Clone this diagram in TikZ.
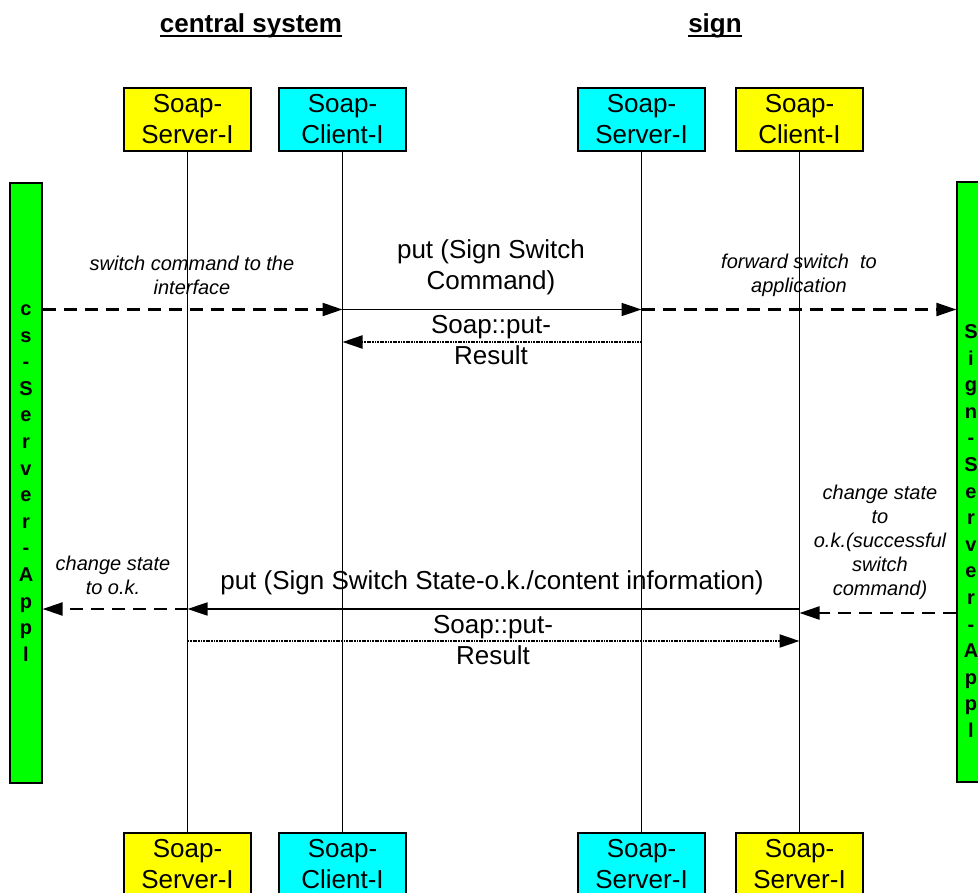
\documentclass[tikz,border=0pt]{standalone}
\usepackage{fontspec}
\setmainfont{Liberation Sans}
\usetikzlibrary{arrows.meta}
\definecolor{srvyellow}{RGB}{255,255,0}
\definecolor{clicyan}{RGB}{0,255,255}
\definecolor{appgreen}{RGB}{0,255,0}
\begin{document}
\begin{tikzpicture}[x=1pt,y=-1pt,
  box/.style={draw, line width=1.2pt, minimum width=127pt, minimum height=63pt,
    inner sep=0pt, align=center, font=\fontsize{26}{31}\selectfont},
  srvbox/.style={box, fill=srvyellow},
  clibox/.style={box, fill=clicyan},
  appbar/.style={draw, line width=1.2pt, fill=appgreen, minimum width=32pt,
    minimum height=600pt, inner sep=0pt},
  applabel/.style={font=\fontsize{20}{26.6}\selectfont\bfseries, align=center, inner sep=0pt},
  life/.style={line width=1.2pt},
  callmsg/.style={line width=1.5pt, -{Triangle[length=20pt,width=13pt]}},
  localmsg/.style={callmsg, line width=2.2pt, dash pattern=on 13pt off 8pt},
  replymsg/.style={callmsg, line width=2pt, dash pattern=on 1.8pt off 0.8pt},
  note/.style={font=\fontsize{20}{24}\selectfont\itshape, align=center, inner sep=0pt},
  lbl/.style={font=\fontsize{26}{31}\selectfont, align=center, inner sep=0pt},
  heading/.style={font=\fontsize{26}{31}\selectfont\bfseries, inner sep=0pt},
  rule/.style={line width=2pt},
]
\useasboundingbox (0,0) rectangle (978,893);
\clip (0,0) rectangle (978,893);

% headings with their underlines
\node[heading, anchor=base] (hcs) at (251,33) {central system};
\node[heading, anchor=base] (hsg) at (715,33) {sign};
\draw[rule] ([yshift=-3pt]hcs.base west) -- ([yshift=-3pt]hcs.base east);
\draw[rule] ([yshift=-3pt]hsg.base west) -- ([yshift=-3pt]hsg.base east);

% participants, top row
\node[srvbox] (s1t) at (187.5,119.5) {Soap-\\Server-I};
\node[clibox] (c1t) at (342.5,119.5) {Soap-\\Client-I};
\node[clibox] (s2t) at (641.5,119.5) {Soap-\\Server-I};
\node[srvbox] (c2t) at (799.5,119.5) {Soap-\\Client-I};

% participants, bottom row
\node[srvbox] (s1b) at (187.5,864.5) {Soap-\\Server-I};
\node[clibox] (c1b) at (342.5,864.5) {Soap-\\Client-I};
\node[clibox] (s2b) at (641.5,864.5) {Soap-\\Server-I};
\node[srvbox] (c2b) at (799.5,864.5) {Soap-\\Server-I};

% lifelines
\draw[life] (s1t.south) -- (s1b.north);
\draw[life] (c1t.south) -- (c1b.north);
\draw[life] (s2t.south) -- (s2b.north);
\draw[life] (c2t.south) -- (c2b.north);

% applications
\node[appbar] (lapp) at (26,483) {};
\node[applabel] (lappt) at (26,483) {c\\s\\-\\S\\e\\r\\v\\e\\r\\-\\A\\p\\p\\l};
\node[appbar] (rapp) at (973,482) {};
\node[applabel] (rappt) at (971,531) {S\\i\\g\\n\\-\\S\\e\\r\\v\\e\\r\\-\\A\\p\\p\\l};

% message levels
\coordinate (m1) at (0,309.5);
\coordinate (m2) at (0,342);
\coordinate (m3) at (0,613);
\coordinate (m4) at (0,609);
\coordinate (m5) at (0,641);

% switch command
\draw[localmsg] (lapp.east |- m1) -- (c1t |- m1);
\draw[callmsg] (c1t |- m1) -- (s2t |- m1);
\draw[replymsg] (s2t |- m2) -- (c1t |- m2);
\draw[localmsg] (s2t |- m1) -- (rapp.west |- m1);

% state report
\draw[localmsg] (rapp.west |- m3) -- (c2t |- m3);
\draw[callmsg] (c2t |- m4) -- (s1t |- m4);
\draw[localmsg] (s1t |- m4) -- (lapp.east |- m4);
\draw[replymsg] (s1t |- m5) -- (c2t |- m5);

% message texts
\node[note] (t1) at (192,275) {switch command to the\\interface};
\node[lbl] (t2) at (491,267.5) {put (Sign Switch\\Command)};
\node[lbl] (t3) at (491,340) {Soap::put-\\Result};
\node[note] (t4) at (799,275) {forward switch\ \ to\\application};
\node[note] (t5) at (880,542.5) {change state\\to\\o.k.(successful\\switch\\command)};
\node[lbl] (t6) at (492,583) {put (Sign Switch State-o.k./content information)};
\node[note] (t7) at (113,575.5) {change state\\to o.k.};
\node[lbl] (t8) at (493,640) {Soap::put-\\Result};
\end{tikzpicture}
\end{document}
